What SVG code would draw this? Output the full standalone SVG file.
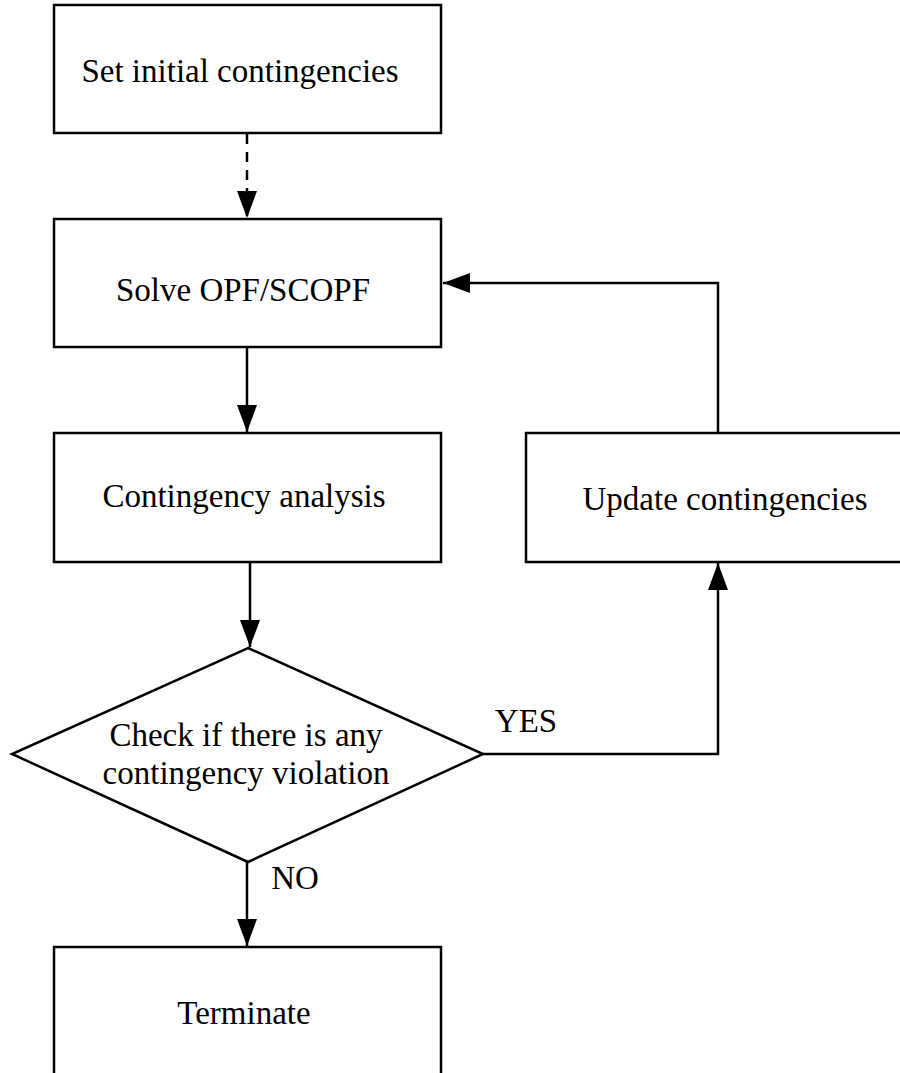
<svg xmlns="http://www.w3.org/2000/svg" width="900" height="1073" viewBox="0 0 900 1073">
<style>
.node{fill:#fff;stroke:#000;stroke-width:2.5}
.lbl{font-family:"Liberation Serif","Times New Roman",serif;font-size:33px;fill:#000;text-anchor:middle}
.edge{fill:none;stroke:#000;stroke-width:2.5}
.dash{stroke-dasharray:10,8}
</style>
<defs>
<marker id="ah" viewBox="0 0 27 20" refX="27" refY="10" markerWidth="27" markerHeight="20" markerUnits="userSpaceOnUse" orient="auto">
<path d="M0,0 L27,10 L0,20 Z" fill="#000"/>
</marker>
</defs>
<rect width="900" height="1073" fill="#fff"/>
<g id="connectors">
<line class="edge dash" x1="247" y1="134" x2="247" y2="218" marker-end="url(#ah)"/>
<line class="edge" x1="247" y1="348" x2="247" y2="432" marker-end="url(#ah)"/>
<line class="edge" x1="250" y1="563" x2="250" y2="647" marker-end="url(#ah)"/>
<polyline class="edge" points="483,754 718,754 718,563" marker-end="url(#ah)"/>
<polyline class="edge" points="718,433 718,283 443,283" marker-end="url(#ah)"/>
<line class="edge" x1="247" y1="862" x2="247" y2="946" marker-end="url(#ah)"/>
<text class="lbl" x="526" y="732">YES</text>
<text class="lbl" x="295" y="889">NO</text>
</g>
<g id="n1"><rect class="node" x="54" y="5" width="387" height="128"/><text class="lbl" x="240" y="82">Set initial contingencies</text></g>
<g id="n2"><rect class="node" x="54" y="219" width="387" height="128"/><text class="lbl" x="243" y="301">Solve OPF/SCOPF</text></g>
<g id="n3"><rect class="node" x="54" y="433" width="387" height="129"/><text class="lbl" x="244" y="507">Contingency analysis</text></g>
<g id="n4"><rect class="node" x="526" y="433" width="380" height="129"/><text class="lbl" x="725" y="510">Update contingencies</text></g>
<g id="n5"><polygon class="node" points="248,648 483,754 248,862 12,754"/><text class="lbl" x="246" y="746">Check if there is any</text><text class="lbl" x="246" y="784">contingency violation</text></g>
<g id="n6"><rect class="node" x="54" y="947" width="387" height="140"/><text class="lbl" x="244" y="1024">Terminate</text></g>
</svg>
